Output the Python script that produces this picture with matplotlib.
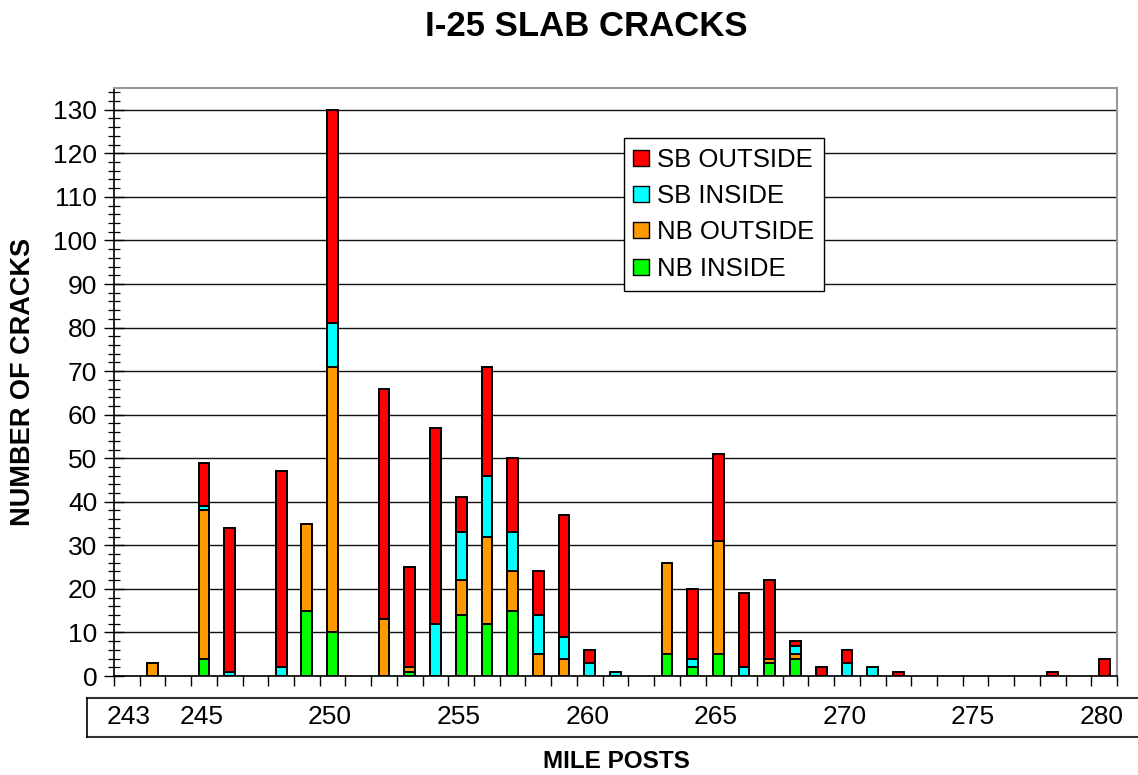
import matplotlib
matplotlib.use("Agg")
import matplotlib.pyplot as plt
from matplotlib.lines import Line2D
from matplotlib.ticker import MultipleLocator
import numpy as np

plt.rcParams['font.family'] = ['Liberation Sans', 'DejaVu Sans']

miles = list(range(242, 281))
nb_inside = [0, 0, 0, 4, 0, 0, 0, 15, 10, 0, 0, 1, 0, 14, 12, 15, 0, 0, 0, 0,
             0, 5, 2, 5, 0, 3, 4, 0, 0, 0, 0, 0, 0, 0, 0, 0, 0, 0, 0]
nb_outside = [0, 3, 0, 34, 0, 0, 0, 20, 61, 0, 13, 1, 0, 8, 20, 9, 5, 4, 0, 0,
              0, 21, 0, 26, 0, 1, 1, 0, 0, 0, 0, 0, 0, 0, 0, 0, 0, 0, 0]
sb_inside = [0, 0, 0, 1, 1, 0, 2, 0, 10, 0, 0, 0, 12, 11, 14, 9, 9, 5, 3, 1,
             0, 0, 2, 0, 2, 0, 2, 0, 3, 2, 0, 0, 0, 0, 0, 0, 0, 0, 0]
sb_outside = [0, 0, 0, 10, 33, 0, 45, 0, 49, 0, 53, 23, 45, 8, 25, 17, 10, 28, 3, 0,
              0, 0, 16, 20, 17, 18, 1, 2, 3, 0, 1, 0, 0, 0, 0, 0, 1, 0, 4]
label_text = ['243', '245', '250', '255', '260', '265', '270', '275', '280']
label_mile = [242.15, 245, 250, 255, 260, 265, 270, 275, 280]

series = [("NB INSIDE", nb_inside, "#00FF00"),
          ("NB OUTSIDE", nb_outside, "#FF9900"),
          ("SB INSIDE", sb_inside, "#00FFFF"),
          ("SB OUTSIDE", sb_outside, "#FF0000")]

W, H = 1138, 775
fig = plt.figure(figsize=(W / 100, H / 100), dpi=100)
ax = fig.add_axes([114 / W, 1 - 676 / H, (1117 - 114) / W, (676 - 88) / H])

x = np.array(miles, dtype=float)
bottom = np.zeros(len(miles))
handles = {}
for name, vals, col in series:
    v = np.array(vals, dtype=float)
    m = v > 0
    ax.bar(x[m], v[m], width=0.42, bottom=bottom[m], color=col,
           edgecolor='black', linewidth=1.4, zorder=3)
    handles[name] = Line2D([], [], marker='s', linestyle='none', markersize=11.5,
                           markerfacecolor=col, markeredgecolor='black',
                           markeredgewidth=1.0)
    bottom += v

ax.set_xlim(miles[0] - 0.5, miles[-1] + 0.5)
ax.set_ylim(0, 135)
ax.yaxis.set_minor_locator(MultipleLocator(2))
ax.set_yticks(np.arange(0, 131, 10))
ax.grid(axis='y', which='major', color='#111111', linewidth=1.0, zorder=0)
ax.set_axisbelow(True)

ax.set_xticks([])
ax.set_xticks(np.arange(miles[0] - 0.5, miles[-1] + 0.51, 1.0), minor=True)
ax.tick_params(axis='x', which='minor', direction='out', length=7, width=1.0,
               color='black')
ax.tick_params(axis='x', which='major', length=0)
ax.tick_params(axis='y', which='major', direction='inout', length=14, width=1.0,
               labelsize=19, pad=5)
ax.tick_params(axis='y', which='minor', direction='inout', length=9, width=0.9)

for s in ['left', 'bottom']:
    ax.spines[s].set_color('black')
    ax.spines[s].set_linewidth(1.2)
for s in ['top', 'right']:
    ax.spines[s].set_color('#999999')
    ax.spines[s].set_linewidth(1.5)

fig.text(23 / W, 1 - 382 / H, 'NUMBER OF CRACKS', rotation=90, ha='center',
         va='center', fontsize=19.5, fontweight='bold')

leg = ax.legend([handles[n] for n in ["SB OUTSIDE", "SB INSIDE", "NB OUTSIDE", "NB INSIDE"]],
                ["SB OUTSIDE", "SB INSIDE", "NB OUTSIDE", "NB INSIDE"],
                loc='upper left', bbox_to_anchor=(624 / W, 1 - 138 / H),
                bbox_transform=fig.transFigure, fontsize=18.5, frameon=True,
                fancybox=False, edgecolor='black', framealpha=1,
                handlelength=0.6, handletextpad=0.3, labelspacing=0.48,
                borderpad=0.38, borderaxespad=0)
leg.get_frame().set_linewidth(1.0)
leg.set_zorder(5)

# label box below the axis
y0, y1 = 1 - 737 / H, 1 - 698 / H
x0 = 87 / W
fig.add_artist(Line2D([x0, 1.0], [y1, y1], transform=fig.transFigure, color='#333333', lw=1.5))
fig.add_artist(Line2D([x0, 1.0], [y0, y0], transform=fig.transFigure, color='#333333', lw=1.5))
fig.add_artist(Line2D([x0, x0], [y0, y1], transform=fig.transFigure, color='black', lw=1.2))

trans = matplotlib.transforms.blended_transform_factory(ax.transData, fig.transFigure)
for t, mx in zip(label_text, label_mile):
    ax.text(mx - 0.1, 1 - 717 / H, t, transform=trans, ha='center', va='center',
            fontsize=19, clip_on=False)

fig.text(616 / W, 1 - 761 / H, 'MILE POSTS', ha='center', va='center',
         fontsize=17.5, fontweight='bold')
fig.text(586 / W, 1 - 26 / H, 'I-25 SLAB CRACKS', ha='center', va='center',
         fontsize=25, fontweight='bold')

fig.savefig('out.png', dpi=100)
